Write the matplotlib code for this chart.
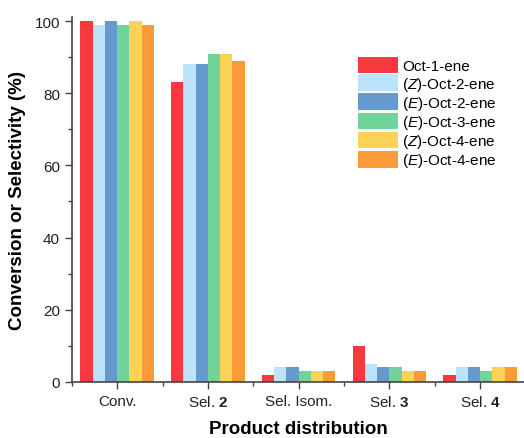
import numpy as np
import matplotlib.pyplot as plt
from matplotlib.ticker import MultipleLocator

categories = ['Conv.', 'Sel. $\\mathbf{2}$', 'Sel. Isom.', 'Sel. $\\mathbf{3}$', 'Sel. $\\mathbf{4}$']
labels = ['Oct-1-ene', '($Z$)-Oct-2-ene', '($E$)-Oct-2-ene',
          '($E$)-Oct-3-ene', '($Z$)-Oct-4-ene', '($E$)-Oct-4-ene']
oct1 = [100, 83, 2, 10, 2]
z_oct2 = [99, 88, 4, 5, 4]
e_oct2 = [100, 88, 4, 4, 4]
e_oct3 = [99, 91, 3, 4, 3]
z_oct4 = [100, 91, 3, 3, 4]
e_oct4 = [99, 89, 3, 3, 4]
series = [oct1, z_oct2, e_oct2, e_oct3, z_oct4, e_oct4]
colors = ['#F8383F', '#BDE3FA', '#6699CC', '#6FD39A', '#FBD157', '#FA9A38']

plt.rcParams['font.family'] = ['Liberation Sans', 'DejaVu Sans']
plt.rcParams['mathtext.fontset'] = 'custom'
plt.rcParams['mathtext.rm'] = 'Liberation Sans'
plt.rcParams['mathtext.it'] = 'Liberation Sans:italic'
plt.rcParams['mathtext.bf'] = 'Liberation Sans:bold'

fig = plt.figure(figsize=(5.24, 4.39), dpi=100)
ax = fig.add_axes([0.137, 0.128, 0.866, 0.83])

x = np.arange(len(categories))
w = 0.135
for i, (vals, c, lab) in enumerate(zip(series, colors, labels)):
    ax.bar(x + (i - 2.5) * w, vals, width=w, color=c, label=lab)

ax.set_xlim(-0.5, 4.5)
ax.set_ylim(0, 101)
ax.set_xticks(x)
ax.set_xticklabels(categories, fontsize=11)
ax.xaxis.set_minor_locator(MultipleLocator(0.5))
ax.yaxis.set_major_locator(MultipleLocator(20))
ax.yaxis.set_minor_locator(MultipleLocator(10))
ax.tick_params(axis='both', which='major', length=5, width=1, color='#444444', labelsize=11, labelcolor='#222222')
ax.tick_params(axis='both', which='minor', length=3, width=1, color='#444444')
for s in ['top', 'right']:
    ax.spines[s].set_visible(False)
for s in ['left', 'bottom']:
    ax.spines[s].set_color('#444444')
    ax.spines[s].set_linewidth(1.2)

ax.set_xlabel('Product distribution', fontsize=13.5, fontweight='bold', labelpad=8)
ax.set_ylabel('Conversion or Selectivity (%)', fontsize=13.5, fontweight='bold', labelpad=6)

ax.legend(loc='upper left', bbox_to_anchor=(0.6, 0.93), frameon=False, fontsize=11,
          handlelength=2.6, handleheight=1.3, handletextpad=0.3, labelspacing=0.05)

fig.savefig('out.png', dpi=100)
